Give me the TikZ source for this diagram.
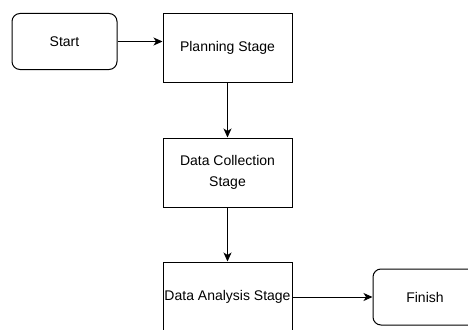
\documentclass[tikz,border=0pt]{standalone}
\usepackage{fontspec}
\setmainfont{Liberation Sans}
\usetikzlibrary{arrows.meta}
\def\picframe{(0,0) rectangle(468,329)}
\tikzset{
  stage/.style={draw, line width=1pt, minimum width=129pt, align=center,
    font=\fontsize{14}{21}\selectfont},
  terminal/.style={draw, line width=1pt, rounded corners=8pt, minimum width=105pt,
    minimum height=56pt, font=\fontsize{14}{21}\selectfont},
  flow/.style={line width=1pt, -{Stealth[length=9pt,width=8pt,inset=2.5pt]}}
}
\begin{document}
\begin{tikzpicture}[x=1pt,y=-1pt]
  \useasboundingbox \picframe;
  \clip \picframe;

  % terminals
  \node[terminal] (start) at (64.5,41.5) {Start};
  \node[terminal, minimum width=104pt] (finish) at (425,297) {Finish};

  % stages
  \node[stage, minimum height=68pt] (planning) at (227.5,48) {Planning Stage};
  \node[stage, minimum height=69pt] (collection) at (227.5,172.5) {Data Collection\\Stage};
  \node[stage, minimum height=70pt, inner sep=1pt] (analysis) at (227.5,297) {Data Analysis Stage};

  %connectors
  \draw[flow] (start.east) -- (start.east -| planning.west);
  \draw[flow] (planning) -- (collection);
  \draw[flow] (collection) -- (analysis);
  \draw[flow] (analysis) -- (finish);
\end{tikzpicture}
\end{document}
